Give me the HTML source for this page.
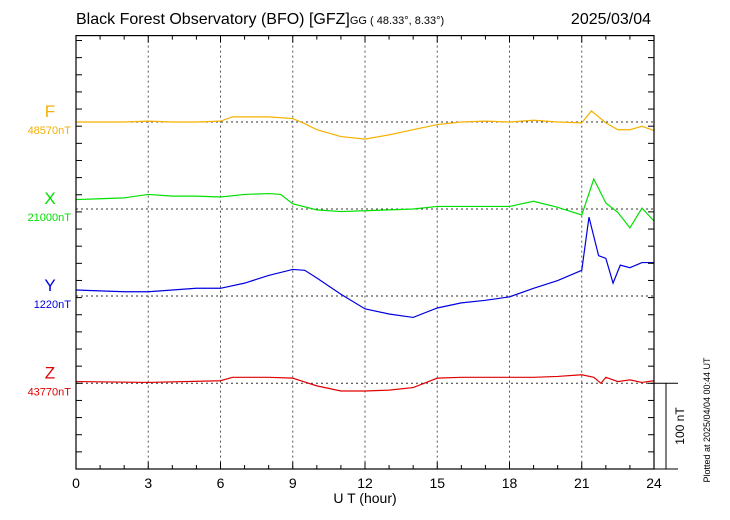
<!DOCTYPE html>
<html><head><meta charset="utf-8">
<style>
body{margin:0;background:#fff;}
svg{display:block;font-family:"Liberation Sans",sans-serif;}
</style></head>
<body>
<svg id="chart" width="730" height="520" viewBox="0 0 730 520">
<text x="76" y="24" font-size="16">Black Forest Observatory (BFO)  [GFZ]<tspan font-size="11">GG ( 48.33°,   8.33°)</tspan></text>
<text x="651" y="24" font-size="16" text-anchor="end">2025/03/04</text>
<text x="710" y="420" font-size="9" transform="rotate(-90 710 420)" text-anchor="middle">Plotted at 2025/04/04 00:44 UT</text>
<g id="grid"></g>
<g id="series"></g>
<g id="axes"></g>
</svg>
<script>
const hours=[0,3,6,9,12,15,18,21,24];
const names=["F","X","Y","Z"];
const baseLabels=["48570nT","21000nT","1220nT","43770nT"];
const colors=["#f5b000","#00e000","#0000e0","#e00000"];
const fT=[0,1,2,3,4,5,6,6.5,7,8,9,9.5,10,11,12,13,14,15,16,17,18,19,20,21,21.4,22,22.5,23,23.5,24];
const fV=[0,0,0,1,0,0,1,6,6,6,4,-2,-9,-17,-20,-15,-9,-3,0,1,0,2,0,-1,13,-1,-9,-9,-5,-10];
const xT=[0,1,2,3,4,5,6,7,8,8.5,9,10,11,12,13,14,15,16,17,18,19,20,21,21.5,22,22.5,23,23.5,24];
const xV=[11,12,13,17,15,15,14,17,18,17,6,-1,-3,-2,-1,0,3,3,3,3,9,2,-7,35,7,-4,-22,1,-14];
const yT=[0,1,2,3,4,5,6,7,8,9,9.5,10,11,12,13,14,15,16,17,18,19,20,21,21.3,21.7,22,22.3,22.6,23,23.5,24];
const yV=[7,6,5,5,7,9,9,15,24,31,30,21,2,-15,-21,-25,-14,-8,-5,-1,9,18,30,92,47,44,15,36,33,39,39];
const zT=[0,3,6,6.5,8,9,10,11,12,13,14,15,16,17,18,19,20,21,21.5,21.8,22,22.5,23,23.5,24];
const zV=[2,1,3,7,7,6,-3,-9,-9,-8,-5,6,7,7,7,7,8,10,7,0,7,2,4,1,3];
const tS=[fT,xT,yT,zT], vS=[fV,xV,yV,zV];
const L=76,R=654,T=35.6,B=469;
const bases=[122,209,296,383.3];
const pxPerNT=(B-383.3)/100;
const sx=h=>L+(R-L)*h/24;
const NS="http://www.w3.org/2000/svg";
function mk(tag,attrs,parent){const e=document.createElementNS(NS,tag);for(const k in attrs)e.setAttribute(k,attrs[k]);parent.appendChild(e);return e;}
const grid=document.getElementById('grid'),ser=document.getElementById('series'),ax=document.getElementById('axes');
hours.slice(1,-1).forEach(h=>{const l=mk('line',{x1:sx(h),x2:sx(h),y1:T,y2:B,stroke:'#555','stroke-dasharray':'2,3'},grid);

});
bases.forEach((b,i)=>{const l=mk('line',{x1:L,x2:R,y1:b,y2:b,stroke:'#333','stroke-dasharray':'2,3'},grid);


const t=mk('text',{x:50,y:b-5,'font-size':17,fill:colors[i],'text-anchor':'middle'},ax);t.textContent=names[i];


const t2=mk('text',{x:71,y:b+12,'font-size':11,fill:colors[i],'text-anchor':'end'},ax);t2.textContent=baseLabels[i];


const p=mk('polyline',{fill:'none',stroke:colors[i],'stroke-width':1.2,points:tS[i].map((h,j)=>sx(h)+','+(b-vS[i][j]*pxPerNT)).join(' ')},ser);

});
const fr=mk('rect',{x:L,y:T,width:R-L,height:B-T,fill:'none',stroke:'#000','stroke-width':1.2},ax);


for(let h=0;h<=24;h++){const len=h%3===0?7:4;
mk('line',{x1:sx(h),x2:sx(h),y1:B,y2:B-len,stroke:'#000'},ax);mk('line',{x1:sx(h),x2:sx(h),y1:T,y2:T+len,stroke:'#000'},ax);}
for(let y=B;y>T;y-=pxPerNT*20){mk('line',{x1:L,x2:L+6,y1:y,y2:y,stroke:'#000'},ax);mk('line',{x1:R,x2:R-6,y1:y,y2:y,stroke:'#000'},ax);}
hours.forEach(h=>{const t=mk('text',{x:sx(h),y:488,'font-size':14,'text-anchor':'middle'},ax);t.textContent=h;

});
const xt=mk('text',{x:365,y:503,'font-size':14,'text-anchor':'middle'},ax);xt.textContent='U T (hour)';


mk('line',{x1:R,x2:678,y1:B,y2:B,stroke:'#000'},ax);
mk('line',{x1:R,x2:678,y1:383.3,y2:383.3,stroke:'#000'},ax);
const sb=mk('line',{x1:666,x2:666,y1:383.3,y2:B,stroke:'#000'},ax);


const st=mk('text',{x:684,y:426,'font-size':12,'text-anchor':'middle',transform:'rotate(-90 684 426)'},ax);st.textContent='100 nT';


</script>
</body></html>
